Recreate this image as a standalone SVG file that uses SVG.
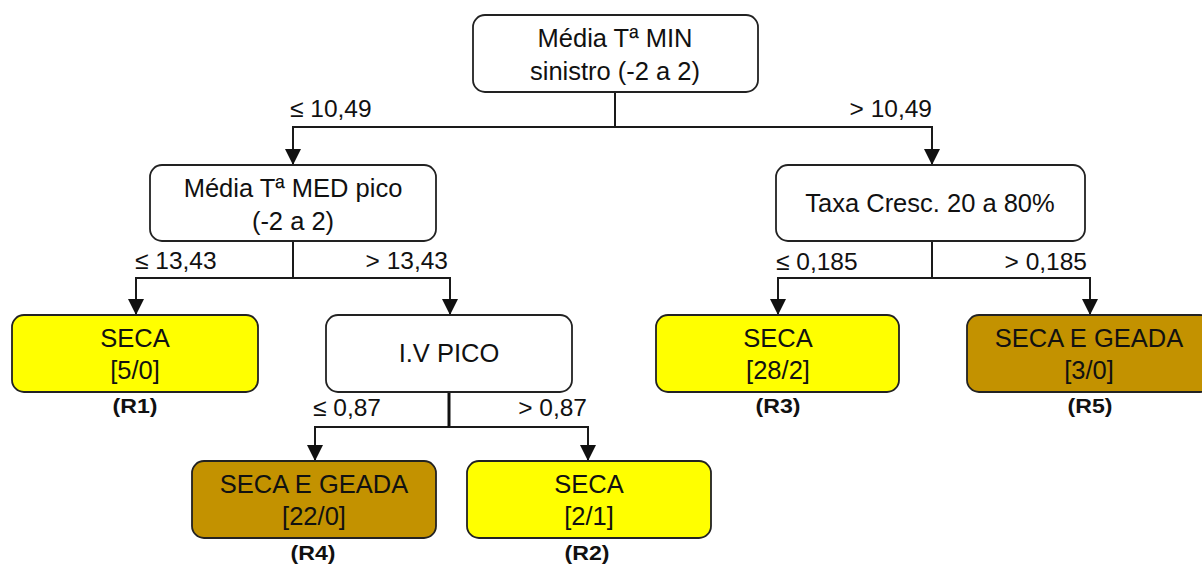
<svg xmlns="http://www.w3.org/2000/svg" width="1202" height="566" viewBox="0 0 1202 566">
<style>
text{font-family:"Liberation Sans",Arial,sans-serif;fill:#111}
.t{font-size:25.5px;text-anchor:middle}
.l{font-size:24.5px}
.r{font-size:19.5px;font-weight:bold;text-anchor:middle}
.box{fill:#fff;stroke:#222;stroke-width:1.8}
.y{fill:#ffff00;stroke:#222;stroke-width:1.8}
.b{fill:#c39200;stroke:#222;stroke-width:1.8}
.c{fill:none;stroke:#1a1a1a;stroke-width:2;marker-end:url(#ah)}
</style>
<defs>
<marker id="ah" markerUnits="userSpaceOnUse" markerWidth="16" markerHeight="16" viewBox="0 0 16 16" refX="16" refY="8" orient="auto">
<path d="M0,0 L16,8 L0,16 z" fill="#111"/>
</marker>
</defs>
<g id="connectors">
<path class="c" d="M615,92 V127 H293 V165"/>
<path class="c" d="M615,127 H932 V165"/>
<path class="c" d="M293,241 V278 H136 V315"/>
<path class="c" d="M293,278 H450 V315"/>
<path class="c" d="M449,392 V427 H315 V461"/>
<path d="M449,392 V427" stroke="#111" stroke-width="3"/>
<path class="c" d="M449,427 H588 V461"/>
<path class="c" d="M932,241 V278 H778 V315"/>
<path class="c" d="M932,278 H1090 V315"/>
</g>
<g id="labels">
<text class="l" x="290" y="117">≤ 10,49</text>
<text class="l" x="932" y="117" text-anchor="end">&gt; 10,49</text>
<text class="l" x="135" y="269">≤ 13,43</text>
<text class="l" x="448" y="269" text-anchor="end">&gt; 13,43</text>
<text class="l" x="313" y="416">≤ 0,87</text>
<text class="l" x="587" y="416" text-anchor="end">&gt; 0,87</text>
<text class="l" x="776" y="270">≤ 0,185</text>
<text class="l" x="1087" y="270" text-anchor="end">&gt; 0,185</text>
</g>
<g id="root">
<rect class="box" x="473" y="15" width="285" height="77" rx="12"/>
<text class="t" x="615" y="47">Média Tª MIN</text>
<text class="t" x="615" y="80">sinistro (-2 a 2)</text>
</g>
<g id="n-med">
<rect class="box" x="150" y="165" width="286" height="76" rx="12"/>
<text class="t" x="293" y="197">Média Tª MED pico</text>
<text class="t" x="293" y="230">(-2 a 2)</text>
</g>
<g id="n-taxa">
<rect class="box" x="776" y="165" width="309" height="76" rx="12"/>
<text class="t" x="930" y="212">Taxa Cresc. 20 a 80%</text>
</g>
<g id="n-iv">
<rect class="box" x="326" y="315" width="246" height="77" rx="12"/>
<text class="t" x="449" y="362">I.V PICO</text>
</g>
<g id="r1">
<rect class="y" x="12" y="315" width="246" height="77" rx="12"/>
<text class="t" x="135" y="347">SECA</text>
<text class="t" x="135" y="379">[5/0]</text>
<text class="r" x="135" y="413" textLength="45" lengthAdjust="spacingAndGlyphs">(R1)</text>
</g>
<g id="r3">
<rect class="y" x="656" y="315" width="243" height="77" rx="12"/>
<text class="t" x="778" y="347">SECA</text>
<text class="t" x="778" y="379">[28/2]</text>
<text class="r" x="778" y="413" textLength="45" lengthAdjust="spacingAndGlyphs">(R3)</text>
</g>
<g id="r5">
<rect class="b" x="967" y="315" width="245" height="77" rx="12"/>
<text class="t" x="1089" y="347">SECA E GEADA</text>
<text class="t" x="1089" y="379">[3/0]</text>
<text class="r" x="1090" y="413" textLength="45" lengthAdjust="spacingAndGlyphs">(R5)</text>
</g>
<g id="r4">
<rect class="b" x="192" y="461" width="244" height="77" rx="12"/>
<text class="t" x="314" y="493">SECA E GEADA</text>
<text class="t" x="314" y="525">[22/0]</text>
<text class="r" x="313" y="560" textLength="45" lengthAdjust="spacingAndGlyphs">(R4)</text>
</g>
<g id="r2">
<rect class="y" x="467" y="461" width="244" height="77" rx="12"/>
<text class="t" x="589" y="493">SECA</text>
<text class="t" x="589" y="525">[2/1]</text>
<text class="r" x="587" y="560" textLength="45" lengthAdjust="spacingAndGlyphs">(R2)</text>
</g>
</svg>
